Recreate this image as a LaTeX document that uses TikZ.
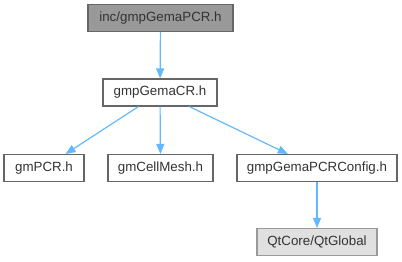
\documentclass[tikz,border=0pt]{standalone}
\usepackage{fontspec}
\setmainfont{Liberation Sans}
\usetikzlibrary{arrows.meta}
\definecolor{edgeblue}{HTML}{63B8FF}
\definecolor{boxline}{HTML}{666666}
\definecolor{curfill}{HTML}{999999}
\definecolor{extfill}{HTML}{E0E0E0}
\definecolor{extline}{HTML}{999999}
\begin{document}
\begin{tikzpicture}[x=0.75pt, y=-0.75pt,
    filebox/.style={draw=boxline, fill=white, line width=0.8pt, minimum height=20.25pt,
      inner sep=0pt, font=\fontsize{10}{12}\selectfont, text=black!80},
    curbox/.style={filebox, fill=curfill},
    extbox/.style={filebox, draw=extline, fill=extfill},
    edge/.style={draw=edgeblue, line width=0.9pt, -{Triangle[length=7.5pt, width=6pt]}}]
% Rahmen des Bildes
\useasboundingbox (0,0) rectangle (402,261);

% Dateien
\node[curbox, minimum width=108.75pt] (pcr) at (160.5,18) {inc/gmpGemaPCR.h};
\node[filebox, minimum width=85.5pt] (cr) at (160,92.5) {gmpGemaCR.h};
\node[filebox, minimum width=60pt] (gmpcr) at (44,168) {gmPCR.h};
\node[filebox, minimum width=78.75pt] (mesh) at (160.5,168) {gmCellMesh.h};
\node[filebox, minimum width=120pt] (config) at (317,168) {gmpGemaPCRConfig.h};
\node[extbox, minimum width=90pt] (qt) at (317,242) {QtCore/QtGlobal};

% Abhaengigkeiten
\draw[edge] (pcr) -- (cr);
\draw[edge] (cr) -- (gmpcr);
\draw[edge] (cr) -- (mesh);
\draw[edge] (cr) -- (config);
\draw[edge] (config) -- (qt);
\end{tikzpicture}
\end{document}
